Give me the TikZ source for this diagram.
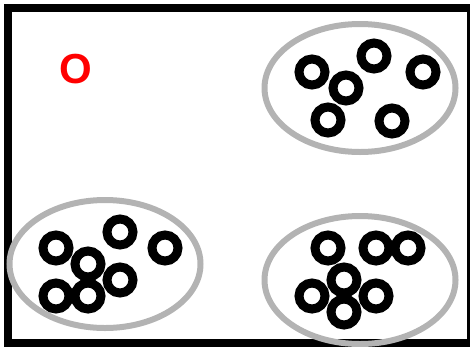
\documentclass[tikz,border=0pt]{standalone}
\usepackage{fontspec}
\setmainfont{Liberation Sans}
\usetikzlibrary{positioning,shapes.geometric}
\definecolor{ringBlack}{RGB}{0, 0, 0}
\definecolor{clusterGray}{RGB}{179, 179, 179}
\definecolor{outlierRed}{RGB}{255, 0, 0}

\begin{document}
\begin{tikzpicture}[x=1pt, y=-1pt,
    point/.style={draw=ringBlack, line width=9pt},
    cluster/.style={draw=clusterGray, ellipse, line width=6pt, minimum width=191pt, minimum height=128pt, inner sep=0pt}]
      \useasboundingbox (0,0) rectangle (470,346);
      \clip (0,0) rectangle (470,346);

      % frame
      \draw[line width=8pt, color=ringBlack] (8,8) rectangle (471,343);

      % clusters
      \node (clusterTR) [cluster] at (360,88) {};
      \node (clusterBL) [cluster] at (105,264) {};
      \node (clusterBR) [cluster] at (360,280) {};

      % outlier
      \node (outlier) [text=outlierRed, font=\bfseries\fontsize{42pt}{42pt}\selectfont, inner sep=0pt] at (76,69) {O};

      % points, top right
      \coordinate (tr1) at (312,72);
      \coordinate (tr2) at (346,88);
      \coordinate (tr3) at (374,56);
      \coordinate (tr4) at (423,72);
      \coordinate (tr5) at (328,120);
      \coordinate (tr6) at (392,121);

      % points, bottom left
      \coordinate (bl1) at (56,248);
      \coordinate (bl2) at (88,264);
      \coordinate (bl3) at (120,232);
      \coordinate (bl4) at (165,248);
      \coordinate (bl5) at (120,280);
      \coordinate (bl6) at (56,296);
      \coordinate (bl7) at (88,296);

      % points, bottom right
      \coordinate (br1) at (328,248);
      \coordinate (br2) at (376,248);
      \coordinate (br3) at (408,248);
      \coordinate (br4) at (344,280);
      \coordinate (br5) at (312,296);
      \coordinate (br6) at (376,296);
      \coordinate (br7) at (344,312);

      \foreach \p in {tr1,tr2,tr3,tr4,tr5,tr6,bl1,bl2,bl3,bl4,bl5,bl6,bl7,br1,br2,br3,br4,br5,br6,br7}
        \draw[point] (\p) circle[radius=13pt];
  \end{tikzpicture}
\end{document}
